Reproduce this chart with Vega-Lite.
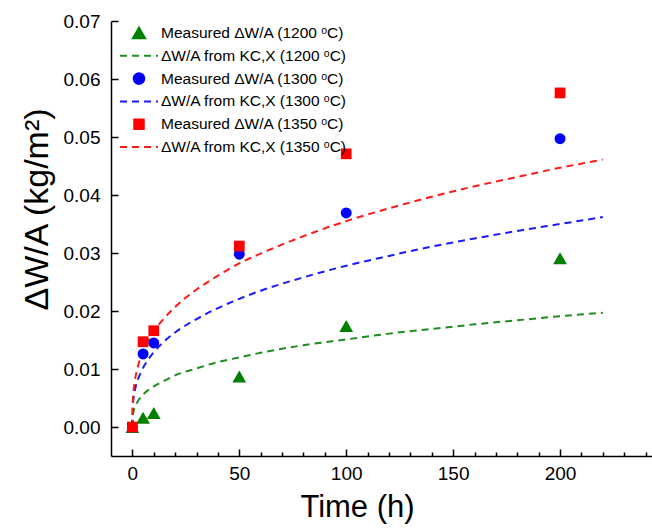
{
  "$schema": "https://vega.github.io/schema/vega-lite/v6.json",
  "width": 541,
  "height": 435,
  "autosize": {"type": "none"},
  "padding": {"left": 111, "top": 21, "right": 0, "bottom": 73},
  "background": "white",
  "config": {
    "font": "Liberation Sans",
    "view": {"stroke": null},
    "axis": {
      "domainColor": "#000000", "domainWidth": 1.5, "tickColor": "#000000", "tickWidth": 1.5,
      "labelColor": "#000000", "titleColor": "#000000", "titleFontWeight": "normal",
      "grid": false, "labelFont": "Liberation Sans", "titleFont": "Liberation Sans"
    }
  },
  "datasets": {
    "fit": [
      {"s": "f1200", "t": 0, "v": 0}, {"s": "f1200", "t": 0.2, "v": 0.0019}, {"s": "f1200", "t": 0.5, "v": 0.0026}, {"s": "f1200", "t": 1, "v": 0.0033}, {"s": "f1200", "t": 2, "v": 0.0041}, {"s": "f1200", "t": 3, "v": 0.0047}, {"s": "f1200", "t": 5, "v": 0.0056}, {"s": "f1200", "t": 7.5, "v": 0.0064}, {"s": "f1200", "t": 10, "v": 0.0070}, {"s": "f1200", "t": 15, "v": 0.0080}, {"s": "f1200", "t": 20, "v": 0.0089}, {"s": "f1200", "t": 30, "v": 0.0101}, {"s": "f1200", "t": 40, "v": 0.0112}, {"s": "f1200", "t": 50, "v": 0.0120}, {"s": "f1200", "t": 60, "v": 0.0128}, {"s": "f1200", "t": 80, "v": 0.0141}, {"s": "f1200", "t": 100, "v": 0.0151}, {"s": "f1200", "t": 120, "v": 0.0161}, {"s": "f1200", "t": 140, "v": 0.0169}, {"s": "f1200", "t": 160, "v": 0.0177}, {"s": "f1200", "t": 180, "v": 0.0184}, {"s": "f1200", "t": 200, "v": 0.0191}, {"s": "f1200", "t": 220, "v": 0.0197},
      {"s": "f1300", "t": 0, "v": 0}, {"s": "f1300", "t": 0.2, "v": 0.0035}, {"s": "f1300", "t": 0.5, "v": 0.0048}, {"s": "f1300", "t": 1, "v": 0.0060}, {"s": "f1300", "t": 2, "v": 0.0076}, {"s": "f1300", "t": 3, "v": 0.0086}, {"s": "f1300", "t": 5, "v": 0.0102}, {"s": "f1300", "t": 7.5, "v": 0.0117}, {"s": "f1300", "t": 10, "v": 0.0129}, {"s": "f1300", "t": 15, "v": 0.0148}, {"s": "f1300", "t": 20, "v": 0.0163}, {"s": "f1300", "t": 30, "v": 0.0186}, {"s": "f1300", "t": 40, "v": 0.0205}, {"s": "f1300", "t": 50, "v": 0.0221}, {"s": "f1300", "t": 60, "v": 0.0235}, {"s": "f1300", "t": 80, "v": 0.0258}, {"s": "f1300", "t": 100, "v": 0.0278}, {"s": "f1300", "t": 120, "v": 0.0295}, {"s": "f1300", "t": 140, "v": 0.0311}, {"s": "f1300", "t": 160, "v": 0.0325}, {"s": "f1300", "t": 180, "v": 0.0338}, {"s": "f1300", "t": 200, "v": 0.0350}, {"s": "f1300", "t": 220, "v": 0.0362},
      {"s": "f1350", "t": 0, "v": 0}, {"s": "f1350", "t": 0.2, "v": 0.0045}, {"s": "f1350", "t": 0.5, "v": 0.0061}, {"s": "f1350", "t": 1, "v": 0.0076}, {"s": "f1350", "t": 2, "v": 0.0096}, {"s": "f1350", "t": 3, "v": 0.0110}, {"s": "f1350", "t": 5, "v": 0.0131}, {"s": "f1350", "t": 7.5, "v": 0.0150}, {"s": "f1350", "t": 10, "v": 0.0165}, {"s": "f1350", "t": 15, "v": 0.0188}, {"s": "f1350", "t": 20, "v": 0.0207}, {"s": "f1350", "t": 30, "v": 0.0237}, {"s": "f1350", "t": 40, "v": 0.0261}, {"s": "f1350", "t": 50, "v": 0.0282}, {"s": "f1350", "t": 60, "v": 0.0299}, {"s": "f1350", "t": 80, "v": 0.0329}, {"s": "f1350", "t": 100, "v": 0.0355}, {"s": "f1350", "t": 120, "v": 0.0377}, {"s": "f1350", "t": 140, "v": 0.0397}, {"s": "f1350", "t": 160, "v": 0.0415}, {"s": "f1350", "t": 180, "v": 0.0431}, {"s": "f1350", "t": 200, "v": 0.0447}, {"s": "f1350", "t": 220, "v": 0.0461}
    ],
    "meas": [
      {"s": "m1200", "t": 0, "v": 0}, {"s": "m1200", "t": 5, "v": 0.0016}, {"s": "m1200", "t": 10, "v": 0.0024}, {"s": "m1200", "t": 50, "v": 0.0087}, {"s": "m1200", "t": 100, "v": 0.0174}, {"s": "m1200", "t": 200, "v": 0.0291},
      {"s": "m1300", "t": 0, "v": 0}, {"s": "m1300", "t": 5, "v": 0.0126}, {"s": "m1300", "t": 10, "v": 0.0145}, {"s": "m1300", "t": 50, "v": 0.0298}, {"s": "m1300", "t": 100, "v": 0.0369}, {"s": "m1300", "t": 200, "v": 0.0497},
      {"s": "m1350", "t": 0, "v": 0}, {"s": "m1350", "t": 5, "v": 0.0147}, {"s": "m1350", "t": 10, "v": 0.0166}, {"s": "m1350", "t": 50, "v": 0.0312}, {"s": "m1350", "t": 100, "v": 0.0471}, {"s": "m1350", "t": 200, "v": 0.0576}
    ]
  },
  "layer": [
    {
      "data": {"name": "fit"},
      "mark": {"type": "line", "strokeWidth": 2, "interpolate": "monotone"},
      "encoding": {
        "x": {"field": "t", "type": "quantitative", "scale": {"domain": [-10, 243], "nice": false, "zero": false},
          "axis": {"orient": "bottom", "values": [0, 50, 100, 150, 200],
            "tickSize": -7, "labelOverlap": false, "labelFlush": false,
            "labelPadding": 15, "labelFontSize": 19, "labelBaseline": "top",
            "title": "Time (h)", "titleFontSize": 31, "titleX": 246, "titleY": 60, "titleBaseline": "alphabetic"}},
        "y": {"field": "v", "type": "quantitative", "scale": {"domain": [-0.005, 0.07], "nice": false, "zero": false},
          "axis": {"orient": "left", "values": [0, 0.005, 0.01, 0.015, 0.02, 0.025, 0.03, 0.035, 0.04, 0.045, 0.05, 0.055, 0.06, 0.065, 0.07], "format": ".3f",
            "tickSize": -7, "labelOverlap": false,
            "encode": {"ticks": {"update": {"x2": {"signal": "round(datum.value * 1000) % 10 === 0 ? 7 : 4"}}}},
            "labelExpr": "round(datum.value * 1000) % 10 === 0 ? format(datum.value, '.2f') : ''",
            "labelPadding": 18, "labelFontSize": 19,
            "title": "ΔW/A (kg/m²)", "titleFontSize": 34, "titleX": -57, "titleY": 188, "titleBaseline": "bottom", "titleAngle": -90, "titleAlign": "center"}},
        "color": {"field": "s", "type": "nominal",
          "scale": {"domain": ["m1200", "f1200", "m1300", "f1300", "m1350", "f1350"], "range": ["#008000", "#1e8c1e", "#0000ff", "#1a1aff", "#ff0000", "#ff1a1a"]},
          "legend": {"title": null, "orient": "none", "legendX": 8, "legendY": 2, "symbolSize": 400, "symbolStrokeWidth": 2, "symbolOpacity": 1, "symbolOffset": 0,
            "clipHeight": 20,
            "labelFontSize": 15.5, "labelFont": "Liberation Sans", "labelColor": "#000000", "labelOffset": 2, "labelLimit": 0, "rowPadding": 2.8, "padding": 0,
            "labelExpr": "datum.value == 'm1200' ? 'Measured ΔW/A (1200 ᵒC)' : datum.value == 'f1200' ? 'ΔW/A from KC,X (1200 ᵒC)' : datum.value == 'm1300' ? 'Measured ΔW/A (1300 ᵒC)' : datum.value == 'f1300' ? 'ΔW/A from KC,X (1300 ᵒC)' : datum.value == 'm1350' ? 'Measured ΔW/A (1350 ᵒC)' : 'ΔW/A from KC,X (1350 ᵒC)'",
            "encode": {"symbols": {"update": {"size": {"signal": "datum.value == 'm1200' ? 150 : datum.value == 'm1300' ? 110 : datum.value == 'm1350' ? 90 : 1444"}}}}}},
        "strokeDash": {"field": "s", "type": "nominal",
          "scale": {"domain": ["m1200", "f1200", "m1300", "f1300", "m1350", "f1350"], "range": [[1, 0], [7, 5], [1, 0], [7, 5], [1, 0], [7, 5]]}}
      }
    },
    {
      "data": {"name": "meas"},
      "mark": {"type": "point", "filled": true, "opacity": 1},
      "encoding": {
        "x": {"field": "t", "type": "quantitative",
          "axis": {"orient": "bottom", "values": [10, 20, 30, 40, 60, 70, 80, 90, 110, 120, 130, 140, 160, 170, 180, 190, 210, 220, 230, 240],
            "tickSize": -4, "labels": false, "domain": false, "title": null}},
        "y": {"field": "v", "type": "quantitative"},
        "color": {"field": "s", "type": "nominal"},
        "size": {"field": "s", "type": "nominal", "legend": null,
          "scale": {"type": "ordinal", "domain": ["m1200", "m1300", "m1350"], "range": [190, 120, 115]}},
        "shape": {"field": "s", "type": "nominal",
          "scale": {"domain": ["m1200", "f1200", "m1300", "f1300", "m1350", "f1350"], "range": ["triangle-up", "stroke", "circle", "stroke", "square", "stroke"]}}
      }
    },
    {
      "mark": {"type": "rule", "stroke": "#000000", "strokeWidth": 1.5},
      "encoding": {"y": {"datum": 0.07}}
    }
  ],
  "resolve": {"axis": {"x": "independent"}}
}
